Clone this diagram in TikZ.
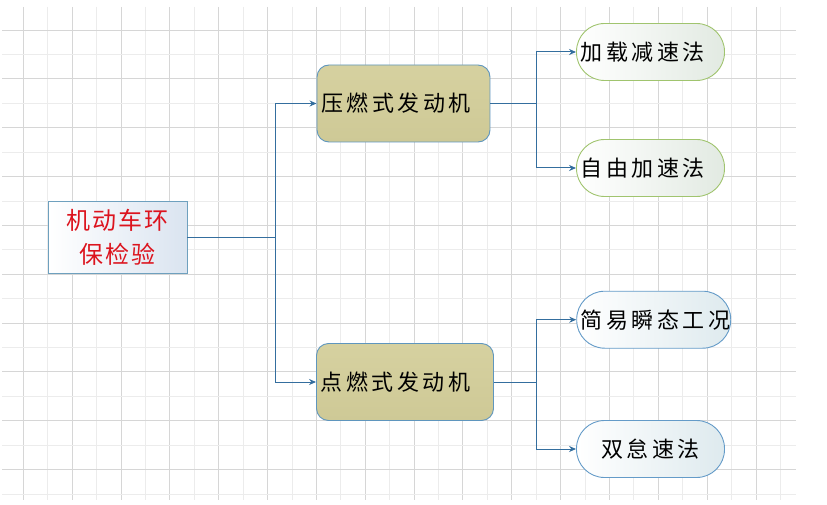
\documentclass[tikz,border=0pt]{standalone}
\usepackage{fontspec}
\newfontfamily\cjk[LetterSpace=16]{Noto Sans CJK SC}
\newfontfamily\cjkroot[LetterSpace=8]{Noto Sans CJK SC}
\usetikzlibrary{arrows.meta}
\definecolor{gridmaj}{RGB}{214,214,214}
\definecolor{gridmin}{RGB}{236,236,236}
\definecolor{connc}{RGB}{52,110,158}
\definecolor{rootbd}{RGB}{110,160,190}
\definecolor{rootr}{RGB}{218,228,240}
\definecolor{rootred}{RGB}{220,20,30}
\definecolor{khaki}{RGB}{206,201,150}
\definecolor{khakit}{RGB}{214,209,160}
\definecolor{enginebd}{RGB}{95,150,190}
\definecolor{greenbd}{RGB}{160,196,110}
\definecolor{greenr}{RGB}{226,234,226}
\definecolor{bluebd}{RGB}{100,155,200}
\definecolor{bluer}{RGB}{222,234,238}
\tikzset{
  rootbox/.style={draw=rootbd, line width=0.9pt, left color=white, right color=rootr,
    minimum width=139pt, minimum height=72pt, inner sep=0pt, align=center,
    text=rootred, font=\cjkroot\fontsize{24}{34}\selectfont},
  enginebox/.style={draw=enginebd, line width=0.9pt, top color=khakit, bottom color=khaki,
    rounded corners=12pt, minimum height=77pt, inner xsep=4pt, inner ysep=0pt,
    align=left, font=\cjk\fontsize{22}{26}\selectfont},
  leafg/.style={draw=greenbd, line width=0.9pt, left color=white, right color=greenr,
    rounded corners=28pt, minimum height=57pt, inner xsep=4pt, inner ysep=0pt,
    align=left, font=\cjk\fontsize{22}{26}\selectfont},
  leafb/.style={draw=bluebd, line width=0.9pt, left color=white, right color=bluer,
    rounded corners=28pt, minimum height=57pt, inner xsep=4pt, inner ysep=0pt,
    align=left, font=\cjk\fontsize{22}{26}\selectfont},
  conn/.style={draw=connc, line width=1pt, -{Stealth[length=7pt,width=6pt]}},
  connplain/.style={draw=connc, line width=1pt},
}
\begin{document}
\begin{tikzpicture}[x=1pt,y=-1pt]
\useasboundingbox (0,0) rectangle (827,505);
\fill[white] (0,0) rectangle (827,505);
% grid
\foreach \k in {0,...,31} {
  \pgfmathsetmacro{\xx}{23.3+24.42*\k}
  \pgfmathtruncatemacro{\odd}{mod(\k,2)}
  \ifnum\odd=0
    \draw[gridmaj, line width=0.8pt] (\xx,7) -- (\xx,500);
  \else
    \draw[gridmin, line width=0.8pt] (\xx,7) -- (\xx,500);
  \fi
}
\foreach \k in {0,...,19} {
  \pgfmathsetmacro{\yy}{30+24.42*\k}
  \pgfmathtruncatemacro{\odd}{mod(\k,2)}
  \ifnum\odd=0
    \draw[gridmaj, line width=0.8pt] (2,\yy) -- (796,\yy);
  \else
    \draw[gridmin, line width=0.8pt] (2,\yy) -- (796,\yy);
  \fi
}
% nodes
\node[rootbox] (root) at (117.5,237.5) {机动车环\\保检验};
\node[enginebox, text width=165pt] (ya) at (403.5,103.5) {压燃式发动机};
\node[enginebox, text width=169pt] (dian) at (405,382) {点燃式发动机};
\node[leafg, text width=140pt] (c1) at (650.5,52) {加载减速法};
\node[leafg, text width=140pt] (c2) at (650.5,168) {自由加速法};
\node[leafb, text width=146pt] (c3) at (653.7,319.7) {简易瞬态工况};
\node[leafb, text width=140pt, align=center] (c4) at (650.5,449) {双怠速法};
% junctions
\coordinate (j1) at (275,237.5);
\coordinate (j2) at (536,103.5);
\coordinate (j3) at (536,382);
% connectors
\draw[connplain] (root.east) -- (j1);
\draw[conn] (j1) |- (ya.west);
\draw[conn] (j1) |- (dian.west);
\draw[connplain] (ya.east) -- (j2);
\draw[conn] (j2) |- (c1.west);
\draw[conn] (j2) |- (c2.west);
\draw[connplain] (dian.east) -- (j3);
\draw[conn] (j3) |- (c3.west);
\draw[conn] (j3) |- (c4.west);
\end{tikzpicture}
\end{document}
